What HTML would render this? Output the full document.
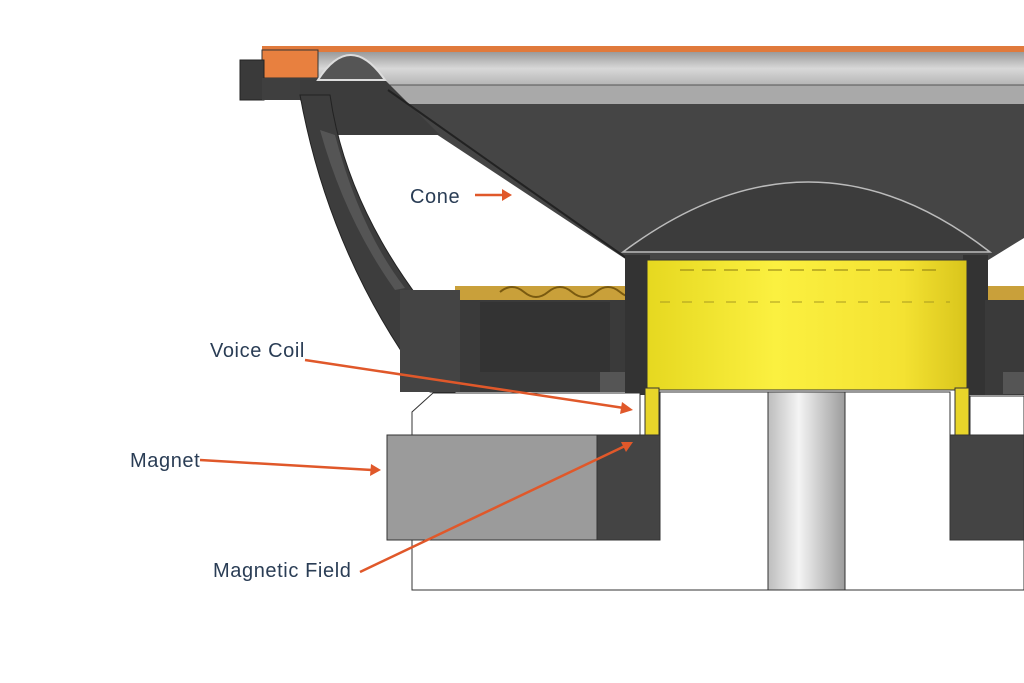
<!DOCTYPE html>
<html><head><meta charset="utf-8"><style>
html,body{margin:0;padding:0;background:#fff;}
svg{display:block}
text{font-family:"Liberation Sans",sans-serif;fill:#2a3d55;font-size:20px;letter-spacing:0.6px}
</style></head><body>
<svg width="1024" height="683" viewBox="0 0 1024 683">
<defs>
<linearGradient id="lg" x1="0" y1="0" x2="0" y2="1"><stop offset="0" stop-color="#9a9a9a"/><stop offset=".5" stop-color="#d8d8d8"/><stop offset="1" stop-color="#b5b5b5"/></linearGradient>
<linearGradient id="yl" x1="0" y1="0" x2="1" y2="0"><stop offset="0" stop-color="#e6d820"/><stop offset=".4" stop-color="#fbf040"/><stop offset=".8" stop-color="#f4e232"/><stop offset="1" stop-color="#d9c51c"/></linearGradient>
<linearGradient id="vent" x1="0" y1="0" x2="1" y2="0"><stop offset="0" stop-color="#bdbdbd"/><stop offset=".4" stop-color="#f4f4f4"/><stop offset="1" stop-color="#9c9c9c"/></linearGradient>
</defs>
<!-- top band -->
<rect x="262" y="46" width="762" height="6" fill="#e07a3c"/>
<rect x="318" y="52" width="706" height="33" fill="url(#lg)"/>
<rect x="318" y="85" width="706" height="19" fill="#a9a9a9"/>
<line x1="318" y1="85" x2="1024" y2="85" stroke="#555"/>
<!-- gasket and bracket -->
<rect x="262" y="50" width="56" height="28" fill="#e8803f" stroke="#333"/>
<rect x="240" y="60" width="24" height="40" fill="#3a3a3a" stroke="#222"/>
<rect x="262" y="78" width="60" height="22" fill="#3f3f3f"/>
<!-- cone body -->
<polygon points="380,104 1024,104 1024,238 985,262 630,262 430,130" fill="#454545"/>
<polygon points="300,80 385,80 440,135 330,135 300,100" fill="#3c3c3c"/>
<line x1="388" y1="90" x2="632" y2="262" stroke="#222" stroke-width="2"/>
<!-- surround -->
<path d="M318,80 Q350,30 385,80 Z" fill="#555" stroke="#ddd" stroke-width="2"/>
<!-- dust cap -->
<path d="M623,252 Q810,112 990,252 Z" fill="#3c3c3c" stroke="#bbb" stroke-width="1.5"/>
<!-- basket leg -->
<path d="M300,95 L330,95 Q345,200 420,300 L455,300 L455,392 L430,392 Q330,260 300,95 Z" fill="#3d3d3d" stroke="#222"/>
<path d="M320,130 L335,135 Q360,230 405,288 L395,290 Q345,220 320,130Z" fill="#555"/>
<!-- spider -->
<rect x="455" y="286" width="190" height="14" fill="#c9a03a"/>
<path d="M500,292 q12,-10 24,0 t24,0 t24,0 t24,0 t24,0 t24,0" fill="none" stroke="#7a5a10" stroke-width="2"/>
<rect x="965" y="286" width="59" height="14" fill="#c9a03a"/>
<!-- below spider -->
<rect x="455" y="300" width="190" height="92" fill="#3a3a3a"/>
<rect x="480" y="302" width="130" height="70" fill="#333"/>
<rect x="400" y="290" width="60" height="102" fill="#444"/>
<rect x="600" y="372" width="45" height="20" fill="#555"/>
<rect x="625" y="255" width="25" height="140" fill="#333"/>
<rect x="963" y="255" width="25" height="140" fill="#333"/>
<rect x="985" y="300" width="39" height="95" fill="#3a3a3a"/>
<rect x="1003" y="372" width="21" height="22" fill="#555"/>
<!-- voice coil -->
<rect x="647" y="260" width="320" height="130" fill="url(#yl)" stroke="#333"/>
<line x1="680" y1="270" x2="940" y2="270" stroke="#8a7a10" stroke-dasharray="14,8"/>
<line x1="660" y1="302" x2="950" y2="302" stroke="#a89a20" stroke-dasharray="10,12"/>
<rect x="645" y="388" width="14" height="60" fill="#e8d52a" stroke="#333"/>
<rect x="955" y="388" width="14" height="60" fill="#e8d52a" stroke="#333"/>
<!-- top plate -->
<path d="M433,393 L640,393 L640,435 L412,435 L412,412 Z" fill="#fff" stroke="#333"/>
<rect x="970" y="396" width="54" height="40" fill="#fff" stroke="#333"/>
<!-- magnet -->
<rect x="387" y="435" width="212" height="105" fill="#9b9b9b" stroke="#333"/>
<rect x="597" y="435" width="63" height="105" fill="#444" stroke="#333"/>
<rect x="950" y="435" width="74" height="105" fill="#444" stroke="#333"/>
<!-- pole & bottom plate -->
<path d="M660,392 L768,392 L768,590 L412,590 L412,540 L660,540 Z" fill="#fff" stroke="#333"/>
<rect x="768" y="392" width="77" height="198" fill="url(#vent)" stroke="#333"/>
<path d="M845,392 L950,392 L950,540 L1024,540 L1024,590 L845,590 Z" fill="#fff" stroke="#333"/>
<!-- labels -->
<text x="410" y="203">Cone</text>
<text x="210" y="357">Voice Coil</text>
<text x="130" y="467">Magnet</text>
<text x="213" y="577">Magnetic Field</text>
<g stroke="#e0582a" stroke-width="2.5" fill="#e0582a">
<line x1="475" y1="195" x2="505" y2="195"/><polygon points="512,195 502,189 502,201" stroke="none"/>
<line x1="305" y1="360" x2="624" y2="408"/><polygon points="633,410 622,402 620,414" stroke="none"/>
<line x1="200" y1="460" x2="372" y2="470"/><polygon points="381,470 371,464 370,476" stroke="none"/>
<line x1="360" y1="572" x2="625" y2="446"/><polygon points="633,442 621,442 626,452" stroke="none"/>
</g>
</svg>
</body></html>
